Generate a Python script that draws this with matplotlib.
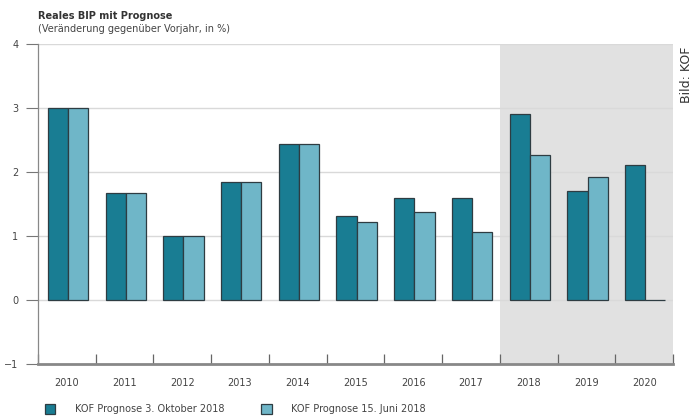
import numpy as np
import matplotlib.pyplot as plt

years = ['2010', '2011', '2012', '2013', '2014', '2015', '2016', '2017', '2018', '2019', '2020']
kof_okt = [3.0, 1.67, 1.0, 1.84, 2.44, 1.32, 1.59, 1.60, 2.91, 1.70, 2.11]
kof_jun = [3.0, 1.67, 1.0, 1.84, 2.44, 1.22, 1.37, 1.07, 2.27, 1.92, 0.0]
prognose_start = 8  # index 2018

dark = '#197d93'
light = '#6fb6c8'

fig = plt.figure(figsize=(6.93, 4.20), dpi=100)
ax = fig.add_axes([38/693, 56/420, 635/693, 320/420])

x = np.arange(len(years))
w = 0.35

# Prognosezeitraum grau hinterlegt
ax.axvspan(prognose_start - 0.5, len(years) - 0.5, color='#e1e1e1', zorder=0, lw=0)

for yv in [0, 1, 2, 3, 4]:
    ax.axhline(yv, color='#d9d9d9', lw=1.0, zorder=1)

ax.bar(x - w/2 + 0.02, kof_okt, w, color=dark, edgecolor='#2e3c42', lw=0.9, zorder=3,
       label='KOF Prognose 3. Oktober 2018')
ax.bar(x + w/2 + 0.02, kof_jun, w, color=light, edgecolor='#2e3c42', lw=0.9, zorder=3,
       label='KOF Prognose 15. Juni 2018')

ax.set_xlim(-0.5, len(years) - 0.5)
ax.set_ylim(-1, 4)
ax.set_yticks([-1, 0, 1, 2, 3, 4])
ax.set_yticklabels(['\u22121', '0', '1', '2', '3', '4'], fontsize=7, color='#444')
ax.tick_params(axis='y', length=9, width=0.8, color='#777', pad=5)

ax.set_xticks(x)
ax.set_xticklabels(years, fontsize=7, color='#444')
ax.tick_params(axis='x', length=0, pad=10)
ax.set_xticks(np.arange(-0.5, len(years), 1), minor=True)
ax.tick_params(axis='x', which='minor', direction='in', length=7, width=0.9, color='#666')

for s in ['top', 'right']:
    ax.spines[s].set_visible(False)
ax.spines['left'].set_color('#888')
ax.spines['left'].set_linewidth(0.9)
ax.spines['bottom'].set_color('#888')
ax.spines['bottom'].set_linewidth(2.0)

fig.text(38/693, 1 - 16/420, 'Reales BIP mit Prognose', fontsize=7, fontweight='bold',
         color='#333', va='center')
fig.text(38/693, 1 - 29/420, '(Veränderung gegenüber Vorjahr, in %)', fontsize=7,
         color='#444', va='center')
fig.text(686/693, 1 - 75/420, 'Bild: KOF', fontsize=9, rotation=90, color='#333',
         va='center', ha='center')

fig.legend(loc='lower left', bbox_to_anchor=(36/693, -3/420), ncol=2, frameon=False,
           fontsize=7, handlelength=1.1, handleheight=1.1, handletextpad=2.0,
           columnspacing=3.8, labelcolor='#444')

fig.savefig('out.png', dpi=100)
